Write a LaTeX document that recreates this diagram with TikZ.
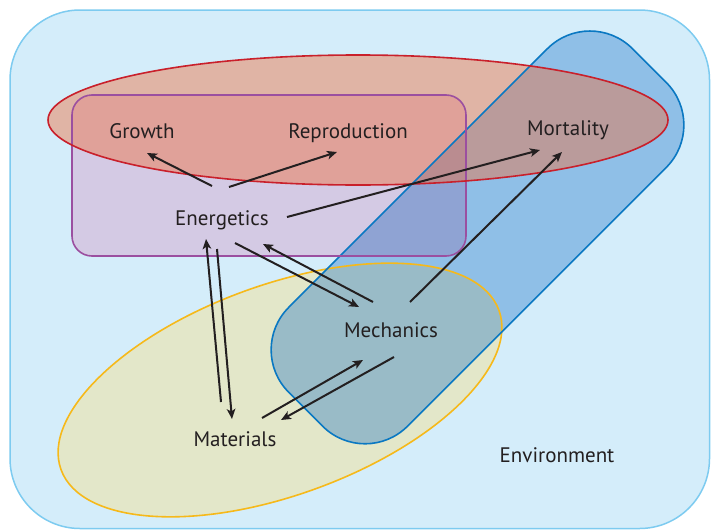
\documentclass[tikz,border=0pt]{standalone}
\usepackage{fontspec}
\setmainfont{PT Sans}
\usetikzlibrary{arrows.meta}
\definecolor{envfill}{HTML}{D4EDFA}
\definecolor{envedge}{HTML}{7DCBF0}
\definecolor{yelfill}{HTML}{E3E7C9}
\definecolor{yeledge}{HTML}{F6B91A}
\definecolor{bandfill}{RGB}{3,100,195}
\definecolor{bandedge}{HTML}{0A78C2}
\definecolor{purfill}{HTML}{FFDAE9}
\definecolor{puredge}{HTML}{9B4FA0}
\definecolor{redfill}{RGB}{239,112,63}
\definecolor{rededge}{HTML}{C9202B}
\definecolor{txt}{HTML}{231F20}
\begin{document}
\begin{tikzpicture}[x=1pt,y=-1pt,
  lbl/.style={font=\fontsize{21}{24}\selectfont, text=txt, inner sep=0pt, anchor=base},
  conn/.style={line width=2pt, draw=txt, -{Stealth[length=10pt,width=8.5pt,inset=2.5pt]}},
  yel/.style={shift={(280,390)}, rotate=20},
  band/.style={shift={(477.5,237.4)}, rotate=45, rounded corners=60pt},
  edge/.style={line width=1.6pt}]
\useasboundingbox (0,0) rectangle (711,530);
% environment
\draw[fill=envfill, draw=envedge, line width=1.5pt, rounded corners=70pt] (10,10) rectangle (709.5,528.5);
% fills
\fill[yelfill, yel] (0,0) ellipse [x radius=233, y radius=105];
\fill[bandfill, fill opacity=0.33, band] (-243,-84) rectangle (243,84);
\begin{scope}[blend mode=multiply]
\fill[purfill, rounded corners=20pt] (72,95) rectangle (466,256);
\end{scope}
\fill[redfill, fill opacity=0.45] (358,120) ellipse [x radius=310, y radius=65];
% outlines
\draw[yeledge, edge, yel] (0,0) ellipse [x radius=233, y radius=105];
\draw[bandedge, edge, band] (-243,-84) rectangle (243,84);
\draw[puredge, edge, rounded corners=20pt] (72,95) rectangle (466,256);
\draw[rededge, edge] (358,120) ellipse [x radius=310, y radius=65];
% labels
\node[lbl] (G) at (142,138) {Growth};
\node[lbl] (R) at (348,138) {Reproduction};
\node[lbl] (M) at (568,135) {Mortality};
\node[lbl] (E) at (222,225) {Energetics};
\node[lbl] (Me) at (391,337) {Mechanics};
\node[lbl] (Ma) at (235,446) {Materials};
\node[lbl] (Env) at (557,462) {Environment};
% connectors
\draw[conn] ([shift={(-10,-39)}]E.base) -- ([shift={(5,15)}]G.base);
\draw[conn] ([shift={(7,-38)}]E.base) -- ([shift={(-11,14)}]R.base);
\draw[conn] ([shift={(65,-8)}]E.base) -- ([shift={(-28,15)}]M.base);
\draw[conn] ([shift={(19,-35)}]Me.base) -- ([shift={(-6,17)}]M.base);
\draw[conn] ([shift={(13,18)}]E.base) -- ([shift={(-32,-30)}]Me.base);
\draw[conn] ([shift={(-18,-35)}]Me.base) -- ([shift={(41,19)}]E.base);
\draw[conn] ([shift={(-14,-44)}]Ma.base) -- ([shift={(-16,14)}]E.base);
\draw[conn] ([shift={(-5,24)}]E.base) -- ([shift={(-3,-27)}]Ma.base);
\draw[conn] ([shift={(27,-28)}]Ma.base) -- ([shift={(-28,23)}]Me.base);
\draw[conn] ([shift={(3,20)}]Me.base) -- ([shift={(46,-26)}]Ma.base);
\end{tikzpicture}
\end{document}
